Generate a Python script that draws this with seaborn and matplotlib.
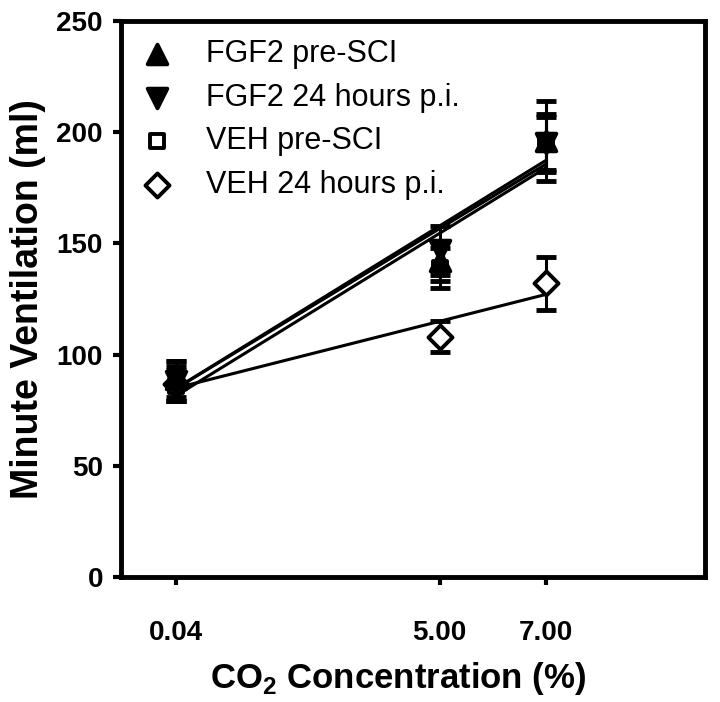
import matplotlib
matplotlib.use("Agg")
import matplotlib.pyplot as plt
import seaborn as sns
import numpy as np

# CO2 concentration (%) and minute ventilation (ml), mean +/- SE
co2 = [0.04, 5.00, 7.00]
co2_labels = ['0.04', '5.00', '7.00']

fgf2_pre = [89, 142, 196]
fgf2_pre_err = [8, 9, 18]
fgf2_24h = [88, 147, 195]
fgf2_24h_err = [9, 11, 12]
veh_pre = [86, 139, 195]
veh_pre_err = [7, 9, 13]
veh_24h = [87, 108, 132]
veh_24h_err = [8, 7, 12]

series = [
    ('VEH 24 hours p.i.', veh_24h, veh_24h_err, 'D', 'white', 150),
    ('VEH pre-SCI', veh_pre, veh_pre_err, 's', 'white', 100),
    ('FGF2 24 hours p.i.', fgf2_24h, fgf2_24h_err, 'v', 'black', 200),
    ('FGF2 pre-SCI', fgf2_pre, fgf2_pre_err, '^', 'black', 200),
]

sns.set_style('ticks', {'axes.edgecolor': 'black', 'text.color': 'black',
                        'axes.labelcolor': 'black', 'xtick.color': 'black',
                        'ytick.color': 'black'})
plt.rcParams['font.family'] = ['Liberation Sans', 'DejaVu Sans']
plt.rcParams['mathtext.fontset'] = 'custom'
plt.rcParams['mathtext.rm'] = 'Liberation Sans'
plt.rcParams['mathtext.bf'] = 'Liberation Sans:bold'

fig = plt.figure(figsize=(7.2, 7.02), dpi=100)
ax = fig.add_axes([121 / 720, 125 / 702, 584 / 720, 556 / 702])

for i, (label, y, err, marker, face, size) in enumerate(series):
    sns.regplot(x=np.array(co2), y=np.array(y), scatter=False, ci=None,
                color='black', line_kws={'lw': 2.2, 'zorder': 2}, ax=ax)
    ax.errorbar(co2, y, yerr=err, fmt='none', ecolor='black', elinewidth=2.2,
                capsize=7, capthick=3.5, zorder=3 + 2 * i)
    sns.scatterplot(x=co2, y=y, marker=marker, s=size, color=face,
                    edgecolor='black', linewidth=2.8, label=label, ax=ax,
                    zorder=4 + 2 * i)

ax.set_xlim(-1, 10)
ax.set_ylim(0, 250)
ax.set_xticks(co2)
ax.set_xticklabels(co2_labels)
ax.set_yticks(np.arange(0, 251, 50))

for s in ax.spines.values():
    s.set_linewidth(3.5)
    s.set_color('black')
    s.set_visible(True)
ax.tick_params(axis='both', direction='out', length=6, width=3, labelsize=20,
               colors='black')
ax.tick_params(axis='x', pad=25)
ax.tick_params(axis='y', pad=7)
for t in ax.get_xticklabels() + ax.get_yticklabels():
    t.set_fontweight('bold')

ax.set_ylabel('Minute Ventilation (ml)', fontsize=27, fontweight='bold',
              color='black')
ax.yaxis.set_label_coords(-0.128, 0.5)
ax.set_xlabel(r'CO$_\mathbf{2}$ Concentration (%)', fontsize=25,
              fontweight='bold', color='black')
ax.xaxis.set_label_coords(0.474, -0.15)

handles, labels = ax.get_legend_handles_labels()
order = [3, 2, 1, 0]
ax.legend([handles[i] for i in order], [labels[i] for i in order],
          loc='upper left', bbox_to_anchor=(-0.012, 1.012), frameon=False,
          fontsize=22, labelspacing=0.45, handletextpad=1.0,
          borderaxespad=0.4, handlelength=1.2, labelcolor='black')

plt.savefig('out.png', dpi=100)
